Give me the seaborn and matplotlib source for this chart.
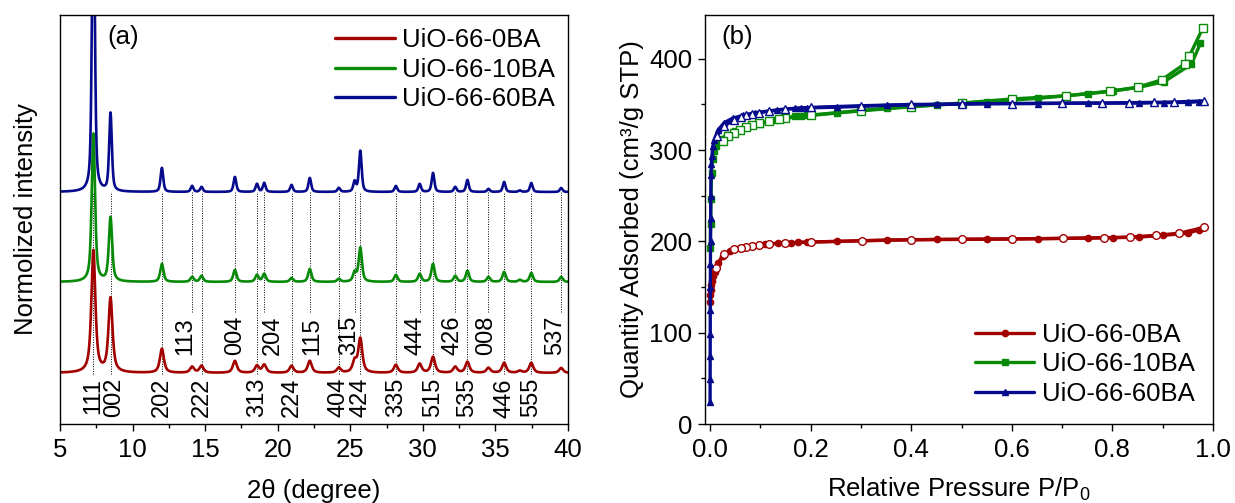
import numpy as np
import pandas as pd
import matplotlib
matplotlib.use("Agg")
import matplotlib.pyplot as plt
from matplotlib.lines import Line2D
from matplotlib.ticker import MultipleLocator, FormatStrFormatter
import seaborn as sns

# ---------------- data ----------------
SAMPLES = ["UiO-66-0BA", "UiO-66-10BA", "UiO-66-60BA"]
COLORS = {"UiO-66-0BA": "#a30000", "UiO-66-10BA": "#078a07", "UiO-66-60BA": "#060a8c"}

# XRD reflections (2theta, degree) and their Miller indices ("" = unindexed)
PEAK_POS = [7.30, 8.48, 12.02, 14.10, 14.75, 17.05, 18.57, 19.07, 20.95, 22.21,
            24.21, 25.30, 25.69, 28.14, 29.78, 30.70, 32.23, 33.07, 34.52, 35.60,
            36.68, 37.47, 39.53]
HKL = ["111", "002", "202", "113", "222", "004", "313", "204", "224", "115",
       "404", "315", "424", "335", "444", "515", "426", "535", "008", "446",
       "", "555", "537"]
HKL_ABOVE = ["113", "004", "204", "115", "315", "444", "426", "008", "537"]

# peak intensities (a.u.) for each sample
XRD_0BA = [122, 74, 24, 6, 7, 12, 7, 8, 7, 12, 5, 11, 34, 8, 9, 16, 6, 11, 5, 10, 2, 10, 5]
XRD_10BA = [148, 64, 18, 5, 6, 12, 7, 8, 4, 13, 3, 9, 34, 7, 8, 18, 6, 11, 5, 10, 2, 9, 5]
XRD_60BA = [330, 78, 24, 6, 5, 15, 8, 9, 7, 14, 4, 10, 41, 6, 8, 19, 5, 12, 3, 10, 1.5, 9, 4]

# N2 isotherms at 77 K: adsorption (filled) and desorption (open) branches
ADS_P_0BA = [0.0004, 0.0008, 0.0015, 0.0025, 0.004, 0.006, 0.009, 0.015, 0.025, 0.04,
             0.06, 0.085, 0.11, 0.135, 0.161, 0.175, 0.193, 0.252, 0.352, 0.452,
             0.551, 0.652, 0.752, 0.802, 0.853, 0.90, 0.95, 0.972]
ADS_Q_0BA = [134, 141, 147, 152, 157, 162, 166, 176, 184, 189.5,
             192.5, 195.3, 197, 197.8, 198.5, 198.9, 199.3, 200, 201.5, 202.2,
             202.6, 203, 203.7, 204, 204.8, 206.6, 209, 212.8]
DES_P_0BA = [0.983, 0.933, 0.887, 0.835, 0.784, 0.702, 0.601, 0.501, 0.40, 0.302,
             0.20, 0.15, 0.117, 0.098, 0.084, 0.072, 0.062, 0.048, 0.028, 0.012]
DES_Q_0BA = [215.4, 209, 206.6, 204.8, 204, 203.3, 202.6, 202.2, 201.8, 200.7,
             199.3, 198.2, 197.4, 196.3, 195.2, 194.1, 192.7, 191.6, 186.4, 170.6]

ADS_P_10BA = [0.0005, 0.001, 0.0018, 0.003, 0.005, 0.008, 0.012, 0.02, 0.035, 0.05,
              0.07, 0.10, 0.13, 0.168, 0.181, 0.193, 0.252, 0.352, 0.452, 0.551,
              0.652, 0.752, 0.802, 0.853, 0.903, 0.957, 0.975]
ADS_Q_10BA = [193, 219, 246, 275, 290, 299, 305, 312, 317, 321,
              325, 329, 333, 337, 337.5, 338, 341, 346, 349.4, 353,
              356.7, 361.8, 364.8, 368.8, 375, 394, 417]
DES_P_10BA = [0.98, 0.953, 0.944, 0.898, 0.851, 0.795, 0.708, 0.60, 0.50, 0.40,
              0.30, 0.20, 0.15, 0.138, 0.117, 0.098, 0.084, 0.072, 0.06, 0.048,
              0.036, 0.026]
DES_Q_10BA = [434, 403, 394.5, 377, 369, 364.5, 359.5, 356, 351.6, 347.5,
              343, 338, 335, 334, 331.7, 329.5, 327, 324.8, 322, 319,
              315.6, 310]

ADS_P_60BA = [0.0001, 0.0002, 0.0003, 0.0004, 0.0005, 0.0006, 0.0008, 0.001, 0.0012,
              0.0015, 0.002, 0.0028, 0.004, 0.006, 0.008, 0.016, 0.028, 0.045, 0.065,
              0.09, 0.133, 0.168, 0.181, 0.193, 0.252, 0.352, 0.452, 0.551, 0.652,
              0.752, 0.853, 0.903, 0.95, 0.972]
ADS_Q_60BA = [24, 49, 74, 99, 125, 150, 175, 200, 226,
              250, 273, 285, 294, 305, 311, 322, 330, 335, 338,
              341, 344, 345.7, 346, 346.3, 347, 349, 350, 351, 351,
              351.5, 351.5, 352, 352.3, 353]
DES_P_60BA = [0.983, 0.923, 0.883, 0.833, 0.78, 0.70, 0.60, 0.50, 0.40, 0.30,
              0.20, 0.15, 0.117, 0.098, 0.084, 0.072, 0.062, 0.048, 0.028, 0.0145]
DES_Q_60BA = [354, 352.7, 352.3, 352, 351.5, 351.5, 351, 350.5, 350, 348.6,
              346.8, 345, 342.6, 341, 340, 338.7, 336.5, 333, 326.6, 316]

# ---------------- style ----------------
sns.set_theme(style="ticks")
plt.rcParams["font.family"] = ["Liberation Sans", "DejaVu Sans"]
plt.rcParams["mathtext.fontset"] = "custom"
plt.rcParams["mathtext.rm"] = "Liberation Sans"
plt.rcParams.update({
    "axes.edgecolor": "black", "axes.linewidth": 1.0,
    "xtick.color": "black", "ytick.color": "black",
    "text.color": "black", "axes.labelcolor": "black",
    "xtick.major.size": 5, "ytick.major.size": 5,
    "xtick.minor.size": 3, "ytick.minor.size": 3,
    "xtick.major.width": 1.0, "ytick.major.width": 1.0,
    "xtick.minor.width": 1.0, "ytick.minor.width": 1.0,
    "xtick.major.pad": 5, "ytick.major.pad": 4,
})
FS = 18.5

fig = plt.figure(figsize=(12.35, 5.03), dpi=100)
W, H = 1235, 503
ax1 = fig.add_axes([60 / W, 1 - 424 / H, (568 - 60) / W, (424 - 15) / H])
ax2 = fig.add_axes([705 / W, 1 - 424 / H, (1213 - 705) / W, (424 - 15) / H])

# ---------------- (a) XRD ----------------
two_theta = np.linspace(5, 40, 3501)


def profile(heights, fwhm, eta):
    y = np.zeros_like(two_theta)
    for c, h in zip(PEAK_POS, heights):
        d = (two_theta - c) / fwhm
        y += h * (eta / (1 + 4 * d ** 2) + (1 - eta) * np.exp(-4 * np.log(2) * d ** 2))
    return y


stack = {"UiO-66-0BA": (XRD_0BA, 0.33, 0.75, 51),
         "UiO-66-10BA": (XRD_10BA, 0.27, 0.65, 142),
         "UiO-66-60BA": (XRD_60BA, 0.22, 0.55, 232)}
frames = []
for name, (h, fw, eta, base) in stack.items():
    frames.append(pd.DataFrame({"two_theta": two_theta,
                                "intensity": profile(h, fw, eta) + base,
                                "sample": name}))
xrd = pd.concat(frames, ignore_index=True)

for name in ["UiO-66-10BA", "UiO-66-0BA", "UiO-66-60BA"]:
    sns.lineplot(data=xrd[xrd["sample"] == name], x="two_theta", y="intensity",
                 color=COLORS[name], lw=1.9, estimator=None, ax=ax1, legend=False)

# reference lines and indices
label_nudge = {"002": 0.25, "113": -0.5, "204": 0.6, "115": 0.15, "315": -0.4,
               "444": -0.28, "426": -0.18, "008": -0.15, "537": -0.45}
for pos, hkl in zip(PEAK_POS, HKL):
    if not hkl:
        continue
    above = hkl in HKL_ABOVE
    ax1.vlines(pos, 112 if above else 50, 232, colors="black", linestyles=(0, (1, 1.5)),
               lw=0.7, zorder=1)
    ax1.text(pos + label_nudge.get(hkl, 0), 69 if above else 46, hkl, rotation=90,
             ha="center", va="bottom" if above else "top", fontsize=17)

ax1.set_xlim(5, 40)
ax1.set_ylim(0, 409)
ax1.set_yticks([])
ax1.xaxis.set_major_locator(MultipleLocator(5))
ax1.xaxis.set_minor_locator(MultipleLocator(2.5))
ax1.tick_params(axis="x", labelsize=FS)
ax1.set_xlabel("2θ (degree)", fontsize=FS, labelpad=12)
ax1.set_ylabel("Normolized intensity", fontsize=FS, labelpad=16)
ax1.text(0.094, 0.975, "(a)", transform=ax1.transAxes, ha="left", va="top", fontsize=FS)

h_a = [Line2D([], [], color=COLORS[s], lw=2.4) for s in SAMPLES]
ax1.legend(h_a, SAMPLES, loc="upper right", frameon=False, fontsize=FS,
           handlelength=2.3, handletextpad=0.3, labelspacing=0.22,
           borderaxespad=0.2, borderpad=0.3)

# ---------------- (b) N2 isotherms ----------------
iso = {"UiO-66-0BA": ("o", ADS_P_0BA, ADS_Q_0BA, DES_P_0BA, DES_Q_0BA),
       "UiO-66-10BA": ("s", ADS_P_10BA, ADS_Q_10BA, DES_P_10BA, DES_Q_10BA),
       "UiO-66-60BA": ("^", ADS_P_60BA, ADS_Q_60BA, DES_P_60BA, DES_Q_60BA)}
for name, (mk, ap, aq, dp, dq) in iso.items():
    c = COLORS[name]
    sns.lineplot(x=ap, y=aq, ax=ax2, color=c, lw=2.4, marker=mk, markersize=4.5,
                 markerfacecolor=c, markeredgecolor=c, markeredgewidth=1.0,
                 estimator=None, sort=False, legend=False)
    sns.lineplot(x=dp, y=dq, ax=ax2, color=c, lw=2.4, marker=mk, markersize=5.5,
                 markerfacecolor="white", markeredgecolor=c, markeredgewidth=1.0,
                 estimator=None, sort=False, legend=False)

ax2.set_xlim(-0.01, 1.0)
ax2.set_ylim(0, 448)
ax2.xaxis.set_major_locator(MultipleLocator(0.2))
ax2.xaxis.set_minor_locator(MultipleLocator(0.1))
ax2.yaxis.set_major_locator(MultipleLocator(100))
ax2.yaxis.set_minor_locator(MultipleLocator(50))
ax2.xaxis.set_major_formatter(FormatStrFormatter("%.1f"))
ax2.tick_params(axis="both", labelsize=FS)
ax2.set_xlabel(r"Relative Pressure P/P$_\mathregular{0}$", fontsize=FS, labelpad=10)
ax2.set_ylabel("Quantity Adsorbed (cm³/g STP)", fontsize=FS, labelpad=4)
ax2.text(0.033, 0.975, "(b)", transform=ax2.transAxes, ha="left", va="top", fontsize=FS)

mk_map = {"UiO-66-0BA": "o", "UiO-66-10BA": "s", "UiO-66-60BA": "^"}
h_b = [Line2D([], [], color=COLORS[s], lw=2.4, marker=mk_map[s], markersize=4.5,
              markerfacecolor=COLORS[s]) for s in SAMPLES]
ax2.legend(h_b, SAMPLES, loc="lower right", frameon=False, fontsize=FS,
           handlelength=2.3, handletextpad=0.3, labelspacing=0.22,
           borderaxespad=0.3, borderpad=0.4)

for ax in (ax1, ax2):
    for sp in ax.spines.values():
        sp.set_visible(True)

fig.savefig("out.png", dpi=100)
